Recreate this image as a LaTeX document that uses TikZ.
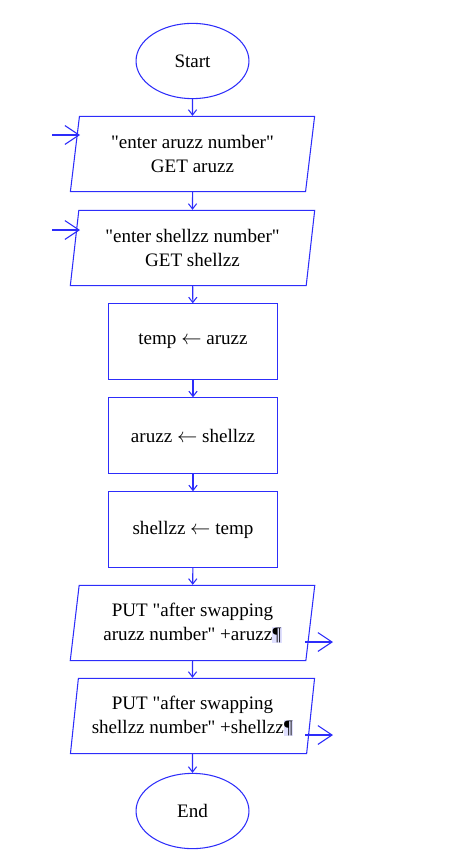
\documentclass[tikz,border=0pt]{standalone}
\usepackage{fontspec}
\setmainfont{Liberation Serif}[Ligatures=TeXOff]
\usetikzlibrary{shapes.geometric,arrows.meta}
\definecolor{flow}{RGB}{45,45,250}
\newcommand{\pil}{{\setlength{\fboxsep}{0.3pt}\colorbox{blue!12}{¶}}}
\begin{document}
\begin{tikzpicture}[x=0.85pt,y=-0.85pt,line width=0.9pt,
  >={Straight Barb[length=4.5pt,width=7pt]},
  every node/.style={font=\fontsize{16.2}{20}\selectfont,align=center,inner sep=0pt},
  term/.style={ellipse,draw=flow,minimum width=96pt,minimum height=64pt},
  io/.style={trapezium,trapezium stretches=true,trapezium left angle=80,trapezium right angle=100,draw=flow,minimum width=208pt,minimum height=64pt},
  proc/.style={rectangle,draw=flow,minimum width=144pt,minimum height=64pt},
  side/.style={flow,-{Straight Barb[length=12pt,width=16pt]}}]
\useasboundingbox (0,0) rectangle (453,867);
\node[term] (start) at (192.5,61) {Start};
\node[io] (in1) at (192.5,154) {"enter aruzz number"\\GET aruzz};
\node[io] (in2) at (192.5,248) {"enter shellzz number"\\GET shellzz};
\node[proc] (s1) at (193,341.5) {temp $\leftarrow$ aruzz};
\node[proc] (s2) at (193,435.5) {aruzz $\leftarrow$ shellzz};
\node[proc] (s3) at (193,529.5) {shellzz $\leftarrow$ temp};
\node[io] (out1) at (192.5,623) {PUT "after swapping\\aruzz number" +aruzz\pil};
\node[io] (out2) at (192.5,716) {PUT "after swapping\\shellzz number" +shellzz\pil};
\node[term] (stop) at (192.5,811) {End};
\foreach \a/\b in {start/in1,in1/in2,in2/s1,s1/s2,s2/s3,s3/out1,out1/out2,out2/stop}
  \draw[flow,->] (\a) -- (\b);
\coordinate (i1) at (52,135);
\coordinate (i2) at (52,230);
\coordinate (o1) at (305,642);
\coordinate (o2) at (305,735);
\draw[side] (i1) -- ++(28,0);
\draw[side] (i2) -- ++(28,0);
\draw[side] (o1) -- ++(28,0);
\draw[side] (o2) -- ++(28,0);
\end{tikzpicture}
\end{document}
